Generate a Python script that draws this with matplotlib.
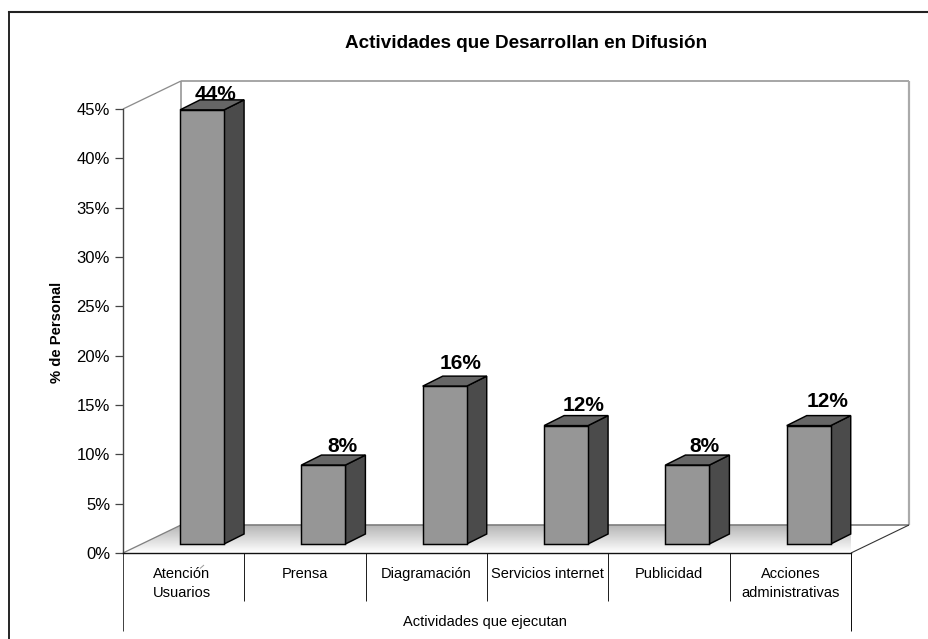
import matplotlib
matplotlib.use('Agg')
import matplotlib.pyplot as plt
import numpy as np
from matplotlib.patches import Polygon

plt.rcParams['font.family'] = ['Liberation Sans', 'DejaVu Sans']

categories = ['Atención\nUsuarios', 'Prensa', 'Diagramación', 'Servicios internet', 'Publicidad',
              'Acciones\nadministrativas']
values = [44, 8, 16, 12, 8, 12]
value_labels = ['44%', '8%', '16%', '12%', '8%', '12%']
y_ticks = [0, 5, 10, 15, 20, 25, 30, 35, 40, 45]
y_tick_labels = ['0%', '5%', '10%', '15%', '20%', '25%', '30%', '35%', '40%', '45%']
title = 'Actividades que Desarrollan en Difusión'
x_title = 'Actividades que ejecutan'
y_title = '% de Personal'

W, H = 929, 639
LEFT, RIGHT, BOTTOM, TOP = 123, 851, 553, 109

fig = plt.figure(figsize=(W / 100, H / 100), dpi=100)
ax = fig.add_axes([LEFT / W, 1 - BOTTOM / H, (RIGHT - LEFT) / W, (BOTTOM - TOP) / H])
ax.set_xlim(0, len(values))
ax.set_ylim(0, 45)
ax.patch.set_alpha(0)

# one pixel in data units, the fake 3d depth is given in pixels
px = len(values) / (RIGHT - LEFT)
py = 45 / (BOTTOM - TOP)
depth_x, depth_y = 58 * px, 28 * py
bar_width = 44 * px
bar_dx, bar_dy = 18.4 * px, 9 * py
side_x, side_y = 20 * px, 10 * py


def line(xs, ys, color, width=1.0, zorder=2):
    ax.plot(xs, ys, color=color, lw=width * 0.72, clip_on=False, zorder=zorder, solid_capstyle='butt')


# floor with gradient
floor = Polygon([(0, 0), (len(values), 0), (len(values) + depth_x, depth_y), (depth_x, depth_y)],
                closed=True, transform=ax.transData, fc='none', ec='none')
ax.add_patch(floor)
gradient = np.linspace(0.70, 1.0, 64).reshape(-1, 1)
im = ax.imshow(gradient, extent=(0, len(values) + depth_x, 0, depth_y), cmap='gray', vmin=0, vmax=1,
               aspect='auto', origin='upper', zorder=1, clip_on=True)
im.set_clip_path(floor)
ax.set_xlim(0, len(values))
ax.set_ylim(0, 45)

# walls
wall_top = 45 + depth_y
line([depth_x, depth_x], [depth_y, wall_top], '#999999', 1.7)
line([depth_x, len(values) + depth_x], [wall_top, wall_top], '#999999', 1.7)
line([len(values) + depth_x] * 2, [depth_y, wall_top], '#aaaaaa', 2.2)
line([depth_x, len(values) + depth_x], [depth_y, depth_y], '#808080', 1.7)
line([0, depth_x], [45, wall_top], '#8c8c8c', 1.3)
line([0, depth_x], [0, depth_y], '#808080', 1.3)
line([len(values), len(values) + depth_x], [0, depth_y], '#333333', 1.1)

# bars
centers = np.arange(len(values)) + 0.5 + bar_dx
ax.bar(centers, values, bottom=bar_dy, width=bar_width, color='#969696', edgecolor='black',
       linewidth=1.05, clip_on=False, zorder=4)
for c, v in zip(centers, values):
    x0, x1 = c - bar_width / 2, c + bar_width / 2
    y0, y1 = bar_dy, bar_dy + v
    ax.add_patch(Polygon([(x1, y0), (x1 + side_x, y0 + side_y), (x1 + side_x, y1 + side_y), (x1, y1)],
                         closed=True, fc='#4b4b4b', ec='black', lw=1.05, clip_on=False, zorder=3))
    ax.add_patch(Polygon([(x0, y1), (x1, y1), (x1 + side_x, y1 + side_y), (x0 + side_x, y1 + side_y)],
                         closed=True, fc='#666666', ec='black', lw=1.05, clip_on=False, zorder=3))

# value labels, as they were dragged by hand in the original
label_dx = [13, 19, 16, 17, 17, 18.5]
label_dy = [15, 19, 23, 20, 19, 24.5]
for c, v, text, dx, dy in zip(centers, values, value_labels, label_dx, label_dy):
    ax.text(c + dx * px, bar_dy + v + dy * py, text, ha='center', va='center', fontsize=15,
            fontweight='bold', clip_on=False, zorder=5)

# axes
for s in ['top', 'right']:
    ax.spines[s].set_visible(False)
ax.spines['left'].set_color('#444444')
ax.spines['left'].set_linewidth(1.0)
ax.spines['bottom'].set_color('#111111')
ax.spines['bottom'].set_linewidth(1.0)
ax.spines['bottom'].set_zorder(6)
ax.set_yticks(y_ticks)
ax.set_yticklabels(y_tick_labels, fontsize=12)
ax.tick_params(axis='y', length=5.8, width=0.9, color='#444444', pad=3.5)
ax.set_xticks([])

# category labels line by line, so all first lines share a baseline
label_shift = [-2, 0, 0, 0, 0, 0]
for i, cat in enumerate(categories):
    for j, part in enumerate(cat.split('\n')):
        ax.text(i + 0.5 + label_shift[i] * px, -(25 + 19 * j) * py, part, ha='center', va='baseline',
                fontsize=10.5, clip_on=False)

# multi level category dividers
low1 = -48 * py
low2 = -78 * py
for i in range(1, len(values)):
    line([i, i], [0, low1], '#222222', 1)
line([0, 0], [0, low2], '#444444', 1)
line([len(values)] * 2, [0, low2], '#111111', 1)
line([(204 - LEFT) * px, (200 - LEFT) * px], [(BOTTOM - 565) * py, (BOTTOM - 568.5) * py], '#999999', 1)

ax.text(3 - 2 * px, -69 * py, x_title, ha='center', va='center', fontsize=10.5, clip_on=False)
fig.text(57.5 / W, 1 - 332 / H, y_title, rotation=90, ha='center', va='center', fontsize=10.6,
         fontweight='bold')
fig.text(526 / W, 1 - 44 / H, title, ha='center', va='center', fontsize=13.6, fontweight='bold')

# outer chart frame, only top and left show in the picture
fig.add_artist(plt.Line2D([9 / W, 9 / W], [0, 1 - 12 / H], color='black', lw=1.2))
fig.add_artist(plt.Line2D([9 / W, 1], [1 - 12 / H, 1 - 12 / H], color='#222222', lw=1.5))

fig.savefig('out.png', dpi=100)
